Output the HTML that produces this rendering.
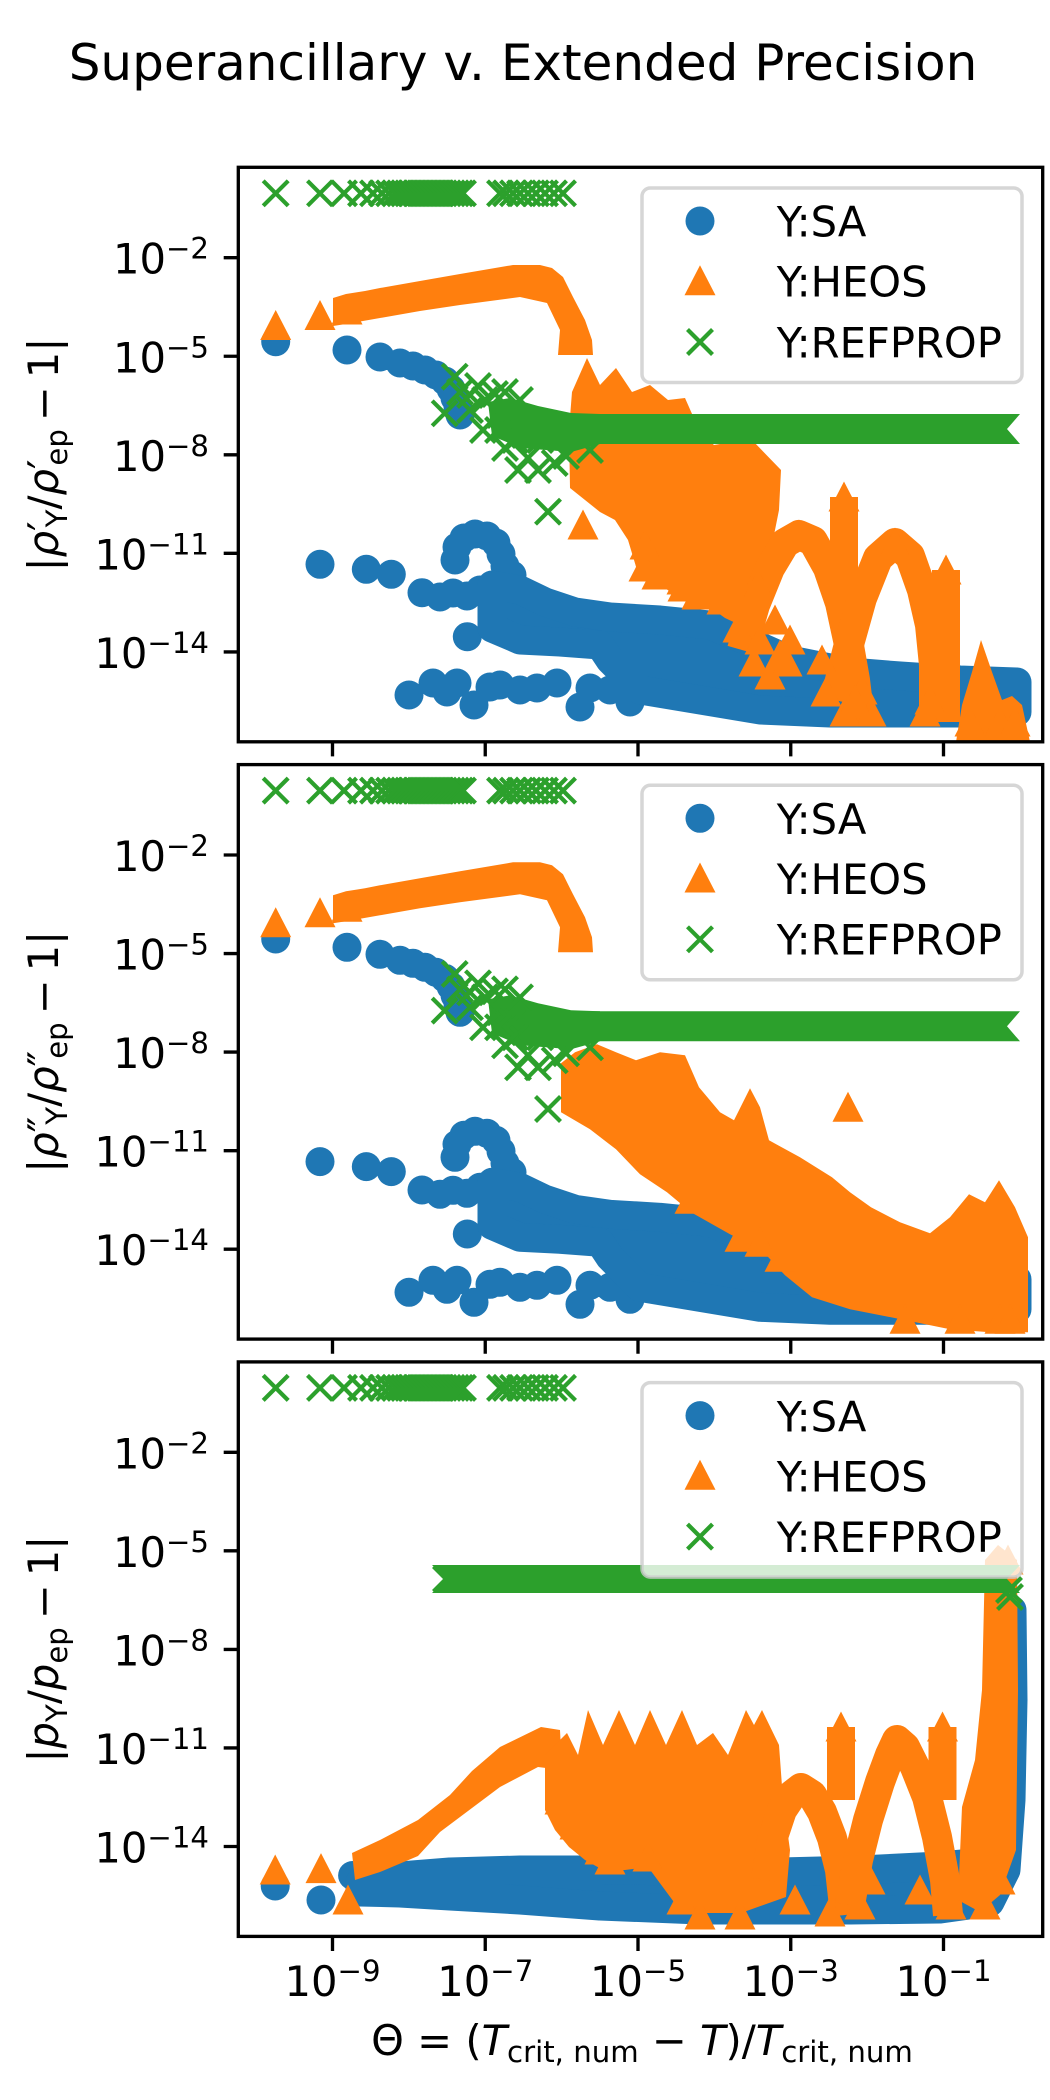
<!DOCTYPE html>
<html><head><meta charset="utf-8">
<style>
html,body{margin:0;padding:0;background:#fff}
svg{display:block}
text{font-family:"DejaVu Sans","Liberation Sans",sans-serif;fill:#000}
.mt{fill:none;stroke:none;marker-start:url(#t);marker-mid:url(#t);marker-end:url(#t)}
.mx{fill:none;stroke:none;marker-start:url(#x);marker-mid:url(#x);marker-end:url(#x)}
.bd{fill:none;stroke:#1f77b4;stroke-width:29;stroke-linecap:round}
.bp{fill:#1f77b4;stroke:#1f77b4;stroke-width:29;stroke-linejoin:round}
.oa{fill:none;stroke:#ff7f0e;stroke-width:30;stroke-linejoin:round}
.os{fill:none;stroke:#ff7f0e;stroke-width:28}
</style></head>
<body>
<svg width="1050" height="2100" viewBox="0 0 1050 2100" xmlns="http://www.w3.org/2000/svg">
<defs>
<marker id="t" markerUnits="userSpaceOnUse" markerWidth="40" markerHeight="40" viewBox="-20 -20 40 40" refX="0" refY="0" overflow="visible"><path d="M0-15.5L15.5 14.5H-15.5Z" fill="#ff7f0e"/></marker>
<marker id="x" markerUnits="userSpaceOnUse" markerWidth="40" markerHeight="40" viewBox="-20 -20 40 40" refX="0" refY="0" overflow="visible"><path d="M-12.5-12.5L12.5 12.5M12.5-12.5L-12.5 12.5" stroke="#2ca02c" stroke-width="4.2" fill="none"/></marker>
<clipPath id="c1"><rect x="238.3" y="167.3" width="804.4" height="574.5"/></clipPath>
<clipPath id="c3"><rect x="238.3" y="1361.9" width="804.4" height="574.5"/></clipPath>

<g id="top">
<rect x="400" y="182" width="63" height="23" fill="#2ca02c"/>
<polyline class="mx" points="275.7,193.3 320,193.3 344,193.3 361,193.3 373,193.3 382,193.3 389,193.3 395,193.3 400,193.3 404,193.3 408,193.3 412,193.3 416,193.3 420,193.3 424,193.3 428,193.3 432,193.3 436,193.3 440,193.3 444,193.3 448,193.3 452,193.3 456,193.3 460,193.3 463,193.3 500,193.3 506,193.3 513,193.3 520,193.3 528,193.3 536,193.3 545,193.3 554,193.3 563,193.3"/>
</g>

<g id="b12">
<path class="bd" d="M275.7 341.7h.01M347 350h.01M380 357h.01M400 363h.01M413 366h.01M425 370h.01M436 375h.01M445 381h.01M451 389h.01M455 398h.01M458 407h.01M460 415h.01M320 564.3h.01M366.3 569.3h.01M391.3 574.3h.01M422 592.7h.01M440 597h.01M453 593h.01M467 596h.01M480 590h.01M467.3 636.7h.01M455 560h.01M457 547h.01M464 538h.01M475 534h.01M487 536h.01M496 543h.01M501 554h.01M505 566h.01M512 575h.01M409 695h.01M433 683h.01M447 692h.01M457 683h.01M474 705h.01M490 687h.01M500 685h.01M520 690h.01M537 688h.01M557 683h.01M580 707h.01M590 688h.01M610 690h.01M630 702h.01M650 690h.01"/>
<polygon class="bp" points="492,585 520,590 545,602 575,612 610,617 660,620 710,625 745,640 790,660 850,672 900,676 960,680 1017,682 1017,712 960,713 900,713 830,713 760,710 700,700 640,690 610,660 600,645 560,642 520,640 492,628"/>
</g>

<g id="oA">
<polygon fill="#ff7f0e" points="333,298 346,294 365,291 380,288 420,281 460,274 513,265 540,265 552,268 563,277 573,297 585,320 592,340 593,355 558,355 560,330 547,303 520,297 460,305 420,311 380,318 346,324 333,326"/>
<polyline class="mt" points="275.7,325.5 320,315.5 347,310"/>
</g>

<g id="g12">
<polygon fill="#2ca02c" points="488,402 510,398 538,406 571,413 600,414 600,444 571,452 521,448 492,436"/>
<polyline class="mx" points="454.7,376.7 444.7,413.3 460,392 470,395 478,386 485,400 495,394 500,415 512,425 525,435 540,440 515,440 498,430 518,470 538,470 554.7,463 548,511.7 528,458 505,448 566,456 590,450 483,430 470,410 505,392 520,400"/>
<polygon fill="#2ca02c" points="570,414 1020,414 1007,429 1020,444 570,444"/>
</g>
</defs>

<!-- Title -->
<text x="523" y="80" text-anchor="middle" font-size="50">Superancillary v. Extended Precision</text>

<!-- Panel 1 data -->
<g clip-path="url(#c1)">
<use href="#b12"/>
<use href="#oA"/>
<polygon fill="#ff7f0e" points="572,392 587,358 600,385 616,368 632,392 650,385 668,400 685,398 700,432 714,445 732,442 752,440 781,470 779,510 772,545 768,590 755,615 740,625 725,618 700,600 683,600 660,585 640,580 628,540 615,520 600,512 585,500 570,488 569,430"/>
<polyline class="oa" points="742,650 755,605 770,568 785,543 799,535 813,541 828,568 840,603 848,640 855,680 860,722"/>
<polyline class="oa" points="835,700 848,648 862,598 878,558 895,543 910,556 922,590 930,625 934,665 934,722"/>
<polyline class="os" points="844,497 844,600"/>
<polyline class="os" points="946,570 946,722"/>
<polygon fill="#ff7f0e" points="956,742 962,705 972,672 981,640 992,672 1002,700 1012,696 1022,705 1030,742"/>
<polyline class="mt" points="583,525 644,567 683,587 663,550 700,572 722,600 738,628 754,662 770,675 787,662 822,660 826,692 862,690 871,712 925,712 1000,722 1015,722 970,722 845,712 799,535 895,543 844,497 946,570 645,545 657,575 682,580 697,595 725,580 745,600 760,640 780,655 730,560 758,585 775,620 790,640 855,700 930,700"/>
<use href="#top"/>
<use href="#g12"/>
</g>

<!-- Panel 2 data -->
<g transform="translate(0,597.3)"><g clip-path="url(#c1)">
<use href="#b12"/>
<use href="#oA"/>
<polygon fill="#ff7f0e" points="561,466 575,455 597,447 616,455 636,463 660,455 685,458 699,490 720,515 734,523 750,491 760,510 769,543 800,560 832,580 850,595 871,610 900,625 930,636 950,620 969,597 985,605 999,583 1015,610 1028,640 1028,735 990,735 950,732 891,720 850,712 812,700 785,678 761,652 730,637 691,615 667,595 640,577 616,552 590,532 561,515"/>
<polyline class="mt" points="848,510 740,640 760,645 905,722 1000,722 1010,722 690,602 780,660 960,722"/>
<use href="#top"/>
<use href="#g12"/>
</g></g>

<!-- Panel 3 data -->
<g clip-path="url(#c3)">
<path class="bd" d="M275.2 1886h.01M321 1900h.01M352.6 1875.5h.01M366 1885h.01"/>
<polygon class="bp" points="360,1882 400,1876 450,1872 520,1870 600,1870 700,1871 780,1872 860,1870 940,1866 985,1862 998,1800 1002,1700 1006,1620 1012,1610 1013,1700 1011,1800 1006,1870 990,1902 940,1909 850,1910 700,1910 600,1906 520,1900 450,1896 400,1893 360,1892"/>
<polyline class="mt" points="275.2,1870 321,1868.6 348,1900"/>
<polygon fill="#ff7f0e" points="352,1853 380,1840 418,1820 450,1795 472,1771 500,1747 541,1727 560,1730 562,1770 538,1767 500,1787 472,1808 440,1832 418,1856 380,1872 355,1880"/>
<polygon fill="#ff7f0e" points="545,1755 567,1733 578,1755 588,1710 603,1745 619,1710 635,1745 650,1710 666,1745 682,1710 697,1745 713,1733 728,1755 746,1710 754,1725 762,1710 779,1745 783,1800 790,1850 786,1897 741,1913 700,1913 682,1913 665,1890 648,1867 625,1870 603,1870 585,1860 569,1847 555,1830 545,1810"/>
<polyline class="oa" points="766,1880 772,1840 782,1810 792,1795 801,1788 812,1795 822,1812 832,1838 840,1870 845,1915"/>
<polyline class="oa" points="850,1905 858,1860 868,1820 880,1782 890,1755 897,1740 905,1747 915,1767 927,1797 937,1837 945,1880 948,1915"/>
<polyline class="os" points="841,1727 841,1800"/>
<polyline class="os" points="942.5,1727 942.5,1800"/>
<polygon fill="#ff7f0e" points="958,1900 962,1807 975,1760 982,1690 985,1560 998,1545 1017,1560 1018,1690 1016,1850 1000,1895 980,1912"/>
<polyline class="mt" points="841,1727 942.5,1727 682,1900 700,1915 740,1915 830,1912 951,1905 610,1860 648,1857 870,1880 920,1890 985,1905 1000,1880 1008,1560 560,1800 575,1825 600,1850 795,1900 860,1905"/>
<use href="#top" transform="translate(0,1194.6)"/>
<polygon fill="#2ca02c" points="432,1565 446,1579 432,1593 1020,1593 1007,1579 1020,1565"/>
<polyline class="mx" points="446,1579 1009,1590 1010,1597"/>
</g>

<!-- Spines and ticks -->
<g fill="none" stroke="#000" stroke-width="3.33">
<rect x="238.3" y="167.3" width="804.4" height="574.5"/>
<rect x="238.3" y="764.6" width="804.4" height="574.5"/>
<rect x="238.3" y="1361.9" width="804.4" height="574.5"/>
<path d="M223.7 257.7H238.3M223.7 356.25H238.3M223.7 454.8H238.3M223.7 553.35H238.3M223.7 651.9H238.3M223.7 855H238.3M223.7 953.55H238.3M223.7 1052.1H238.3M223.7 1150.65H238.3M223.7 1249.2H238.3M223.7 1452.3H238.3M223.7 1550.85H238.3M223.7 1649.4H238.3M223.7 1747.95H238.3M223.7 1846.5H238.3"/>
<path d="M332.5 741.8v14.6M485.25 741.8v14.6M638 741.8v14.6M790.75 741.8v14.6M943.5 741.8v14.6M332.5 1339.1v14.6M485.25 1339.1v14.6M638 1339.1v14.6M790.75 1339.1v14.6M943.5 1339.1v14.6M332.5 1936.4v14.6M485.25 1936.4v14.6M638 1936.4v14.6M790.75 1936.4v14.6M943.5 1936.4v14.6"/>
</g>

<!-- Y tick labels -->
<g font-size="41.67" text-anchor="end">
<text x="209" y="273.7">10<tspan dy="-15" font-size="29.2">−2</tspan></text>
<text x="209" y="372.25">10<tspan dy="-15" font-size="29.2">−5</tspan></text>
<text x="209" y="470.8">10<tspan dy="-15" font-size="29.2">−8</tspan></text>
<text x="209" y="569.35">10<tspan dy="-15" font-size="29.2">−11</tspan></text>
<text x="209" y="667.9">10<tspan dy="-15" font-size="29.2">−14</tspan></text>
<text x="209" y="871">10<tspan dy="-15" font-size="29.2">−2</tspan></text>
<text x="209" y="969.55">10<tspan dy="-15" font-size="29.2">−5</tspan></text>
<text x="209" y="1068.1">10<tspan dy="-15" font-size="29.2">−8</tspan></text>
<text x="209" y="1166.65">10<tspan dy="-15" font-size="29.2">−11</tspan></text>
<text x="209" y="1265.2">10<tspan dy="-15" font-size="29.2">−14</tspan></text>
<text x="209" y="1468.3">10<tspan dy="-15" font-size="29.2">−2</tspan></text>
<text x="209" y="1566.85">10<tspan dy="-15" font-size="29.2">−5</tspan></text>
<text x="209" y="1665.4">10<tspan dy="-15" font-size="29.2">−8</tspan></text>
<text x="209" y="1763.95">10<tspan dy="-15" font-size="29.2">−11</tspan></text>
<text x="209" y="1862.5">10<tspan dy="-15" font-size="29.2">−14</tspan></text>
</g>

<!-- X tick labels -->
<g font-size="41.67" text-anchor="middle">
<text x="332.5" y="1996">10<tspan dy="-15" font-size="29.2">−9</tspan></text>
<text x="485.25" y="1996">10<tspan dy="-15" font-size="29.2">−7</tspan></text>
<text x="638" y="1996">10<tspan dy="-15" font-size="29.2">−5</tspan></text>
<text x="790.75" y="1996">10<tspan dy="-15" font-size="29.2">−3</tspan></text>
<text x="943.5" y="1996">10<tspan dy="-15" font-size="29.2">−1</tspan></text>
</g>

<!-- Axis labels -->
<text x="642" y="2055" text-anchor="middle" font-size="41.67">Θ = (<tspan font-style="italic">T</tspan><tspan font-size="29.2" dy="7">crit, num</tspan><tspan dy="-7"> − </tspan><tspan font-style="italic">T</tspan>)/<tspan font-style="italic">T</tspan><tspan font-size="29.2" dy="7">crit, num</tspan></text>

<text transform="translate(58,454.5) rotate(-90)" text-anchor="middle" font-size="41.67">|<tspan font-style="italic">ρ</tspan>′<tspan font-size="29.2" dy="9" dx="-6">Y</tspan><tspan dy="-9">/</tspan><tspan font-style="italic">ρ</tspan>′<tspan font-size="29.2" dy="9" dx="-6">ep</tspan><tspan dy="-9" dx="8">−</tspan><tspan dx="8">1|</tspan></text>
<text transform="translate(58,1051.8) rotate(-90)" text-anchor="middle" font-size="41.67">|<tspan font-style="italic">ρ</tspan>″<tspan font-size="29.2" dy="9" dx="-8">Y</tspan><tspan dy="-9">/</tspan><tspan font-style="italic">ρ</tspan>″<tspan font-size="29.2" dy="9" dx="-8">ep</tspan><tspan dy="-9" dx="8">−</tspan><tspan dx="8">1|</tspan></text>
<text transform="translate(58,1649.1) rotate(-90)" text-anchor="middle" font-size="41.67">|<tspan font-style="italic">p</tspan><tspan font-size="29.2" dy="9">Y</tspan><tspan dy="-9">/</tspan><tspan font-style="italic">p</tspan><tspan font-size="29.2" dy="9">ep</tspan><tspan dy="-9" dx="8">−</tspan><tspan dx="8">1|</tspan></text>

<!-- Legends -->
<g>
<rect x="642" y="188" width="380" height="194.5" rx="8.3" fill="#fff" fill-opacity="0.8" stroke="#ccc" stroke-opacity="0.8" stroke-width="3.5"/>
<circle cx="700" cy="221" r="14.5" fill="#1f77b4"/>
<path d="M700 265.2L715.5 295.2H684.5Z" fill="#ff7f0e"/>
<path d="M687.5 329.5L712.5 354.5M712.5 329.5L687.5 354.5" stroke="#2ca02c" stroke-width="4.2"/>
<text x="776.7" y="236.7" font-size="41.67">Y:SA</text>
<text x="776.7" y="296.7" font-size="41.67">Y:HEOS</text>
<text x="776.7" y="357.3" font-size="41.67">Y:REFPROP</text>
</g>
<g transform="translate(0,597.3)">
<rect x="642" y="188" width="380" height="194.5" rx="8.3" fill="#fff" fill-opacity="0.8" stroke="#ccc" stroke-opacity="0.8" stroke-width="3.5"/>
<circle cx="700" cy="221" r="14.5" fill="#1f77b4"/>
<path d="M700 265.2L715.5 295.2H684.5Z" fill="#ff7f0e"/>
<path d="M687.5 329.5L712.5 354.5M712.5 329.5L687.5 354.5" stroke="#2ca02c" stroke-width="4.2"/>
<text x="776.7" y="236.7" font-size="41.67">Y:SA</text>
<text x="776.7" y="296.7" font-size="41.67">Y:HEOS</text>
<text x="776.7" y="357.3" font-size="41.67">Y:REFPROP</text>
</g>
<g transform="translate(0,1194.6)">
<rect x="642" y="188" width="380" height="194.5" rx="8.3" fill="#fff" fill-opacity="0.8" stroke="#ccc" stroke-opacity="0.8" stroke-width="3.5"/>
<circle cx="700" cy="221" r="14.5" fill="#1f77b4"/>
<path d="M700 265.2L715.5 295.2H684.5Z" fill="#ff7f0e"/>
<path d="M687.5 329.5L712.5 354.5M712.5 329.5L687.5 354.5" stroke="#2ca02c" stroke-width="4.2"/>
<text x="776.7" y="236.7" font-size="41.67">Y:SA</text>
<text x="776.7" y="296.7" font-size="41.67">Y:HEOS</text>
<text x="776.7" y="357.3" font-size="41.67">Y:REFPROP</text>
</g>
</svg>
</body></html>
